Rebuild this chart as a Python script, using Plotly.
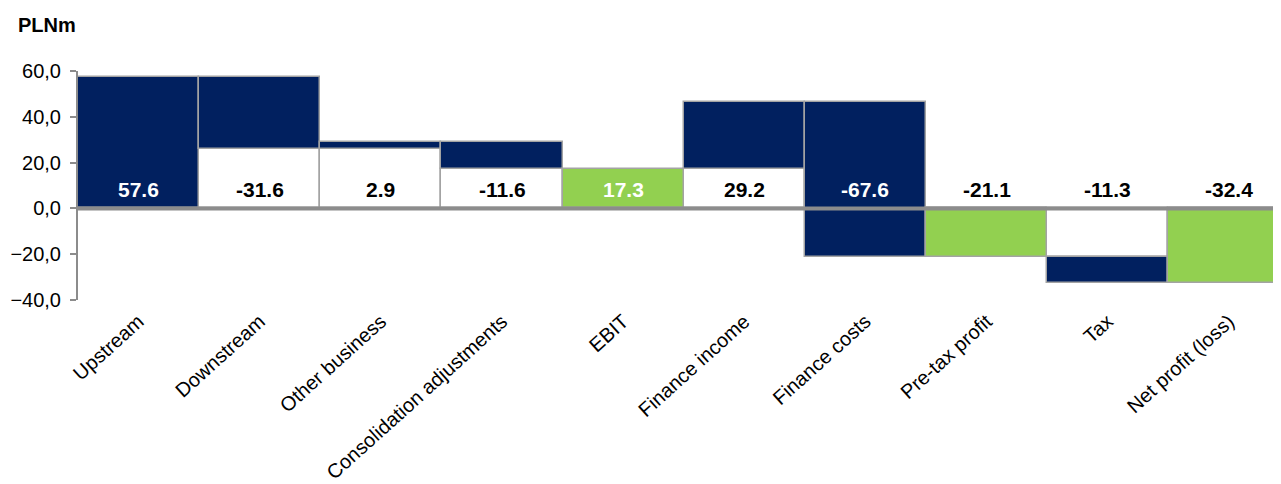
import plotly.graph_objects as go

categories = ["Upstream", "Downstream", "Other business", "Consolidation adjustments", "EBIT",
              "Finance income", "Finance costs", "Pre-tax profit", "Tax", "Net profit (loss)"]
values = [57.6, -31.6, 2.9, -11.6, 17.3, 29.2, -67.6, -21.1, -11.3, -32.4]
is_total = [False, False, False, False, True, False, False, True, False, True]
y_ticks = [-40, -20, 0, 20, 40, 60]

NAVY = "#01205F"
GREEN = "#92D050"
BORDER = "#A3A3A3"
AXIS = "#8C8C8C"
FONT = "Liberation Sans, Arial, sans-serif"

# page body has an 8px margin; figure sized to fit the window
W, H = 1273, 476
L, R, T, B = 70, 0, 63, 184
PW, PH = W - L - R, H - T - B

# waterfall geometry
white_base, white_len, col_base, col_len, col_color = [], [], [], [], []
running = 0.0
for v, tot in zip(values, is_total):
    if tot:
        start, end = 0.0, v
        running = v
    else:
        start, end = running, running + v
        running = end
    lo, hi = min(start, end), max(start, end)
    if tot or (lo <= 0 <= hi):
        white_base.append(0); white_len.append(0)
    elif lo > 0:
        white_base.append(0); white_len.append(lo)
    else:
        white_base.append(hi); white_len.append(-hi)
    col_base.append(lo)
    col_len.append(hi - lo)
    col_color.append(GREEN if tot else NAVY)

fig = go.Figure()
fig.add_trace(go.Bar(x=categories, y=white_len, base=white_base, width=1,
                     marker=dict(color="white", line=dict(color=BORDER, width=1.5)),
                     hoverinfo="skip", showlegend=False))
fig.add_trace(go.Bar(x=categories, y=col_len, base=col_base, width=1,
                     marker=dict(color=col_color, line=dict(color=BORDER, width=1.5)),
                     showlegend=False))

annotations = []
for c, v, b, l in zip(categories, values, col_base, col_len):
    on_colour = b <= 0 and b + l >= 10
    annotations.append(dict(x=c, y=0, xref="x", yref="y", text=f"<b>{v:.1f}</b>",
                            showarrow=False, yanchor="bottom", yshift=5,
                            font=dict(family=FONT, size=21,
                                      color="white" if on_colour else "black")))
annotations.append(dict(x=(8 - L) / PW, y=(H - B - 17) / PH, xref="paper", yref="paper",
                        xanchor="left", yanchor="middle", showarrow=False,
                        text="<b>PLNm</b>", font=dict(family=FONT, size=20, color="black")))

fig.update_layout(
    width=W, height=H,
    margin=dict(l=L, r=R, t=T, b=B, autoexpand=False),
    plot_bgcolor="white", paper_bgcolor="white",
    barmode="overlay", bargap=0,
    separators=", ",
    font=dict(family=FONT, color="black"),
    annotations=annotations,
    shapes=[dict(type="line", xref="paper", x0=0, x1=1, yref="y", y0=0, y1=0,
                 line=dict(color=AXIS, width=4), layer="above")],
    xaxis=dict(range=[-0.5, 9.43], showgrid=False, zeroline=False, showline=False,
               automargin=False, tickangle=-42, ticklabelstandoff=5,
               tickfont=dict(family=FONT, size=20, color="black"), ticks=""),
    yaxis=dict(range=[-40, 60], tickvals=y_ticks, tickformat=".1f", showgrid=False,
               automargin=False, zeroline=False, showline=True, linecolor=AXIS, linewidth=2,
               ticks="outside", ticklen=6, tickcolor=AXIS, tickwidth=2, ticklabelstandoff=5,
               tickfont=dict(family=FONT, size=20, color="black")),
)

fig.write_html("out.html")
